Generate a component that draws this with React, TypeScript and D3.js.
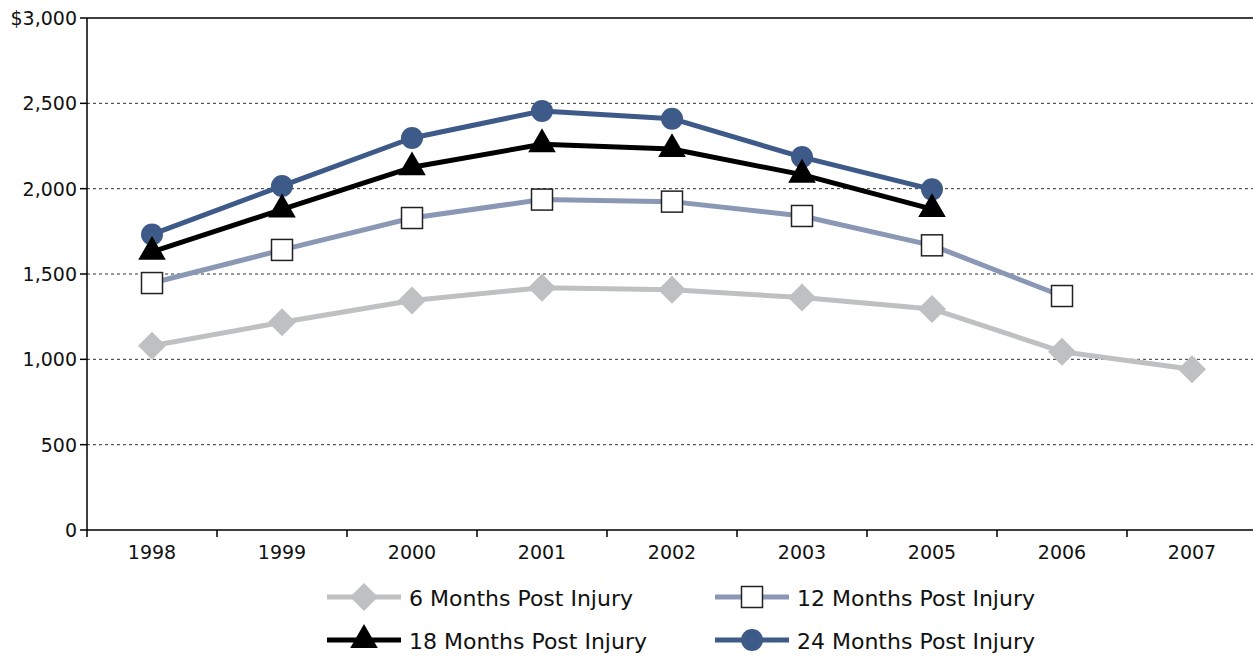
import React from "react";
import * as d3 from "d3";

const years = ["1998", "1999", "2000", "2001", "2002", "2003", "2005", "2006", "2007"];
const m6 = [1080, 1217, 1345, 1420, 1408, 1362, 1295, 1045, 942];
const m12 = [1447, 1641, 1828, 1936, 1924, 1840, 1668, 1371, null];
const m18 = [1630, 1878, 2125, 2260, 2232, 2082, 1880, null, null];
const m24 = [1732, 2016, 2297, 2455, 2410, 2185, 1996, null, null];
const yTicks = [0, 500, 1000, 1500, 2000, 2500, 3000];
const yTickLabels = ["0", "500", "1,000", "1,500", "2,000", "2,500", "$3,000"];

type Series = { name: string; values: (number | null)[]; color: string; shape: string };
const series: Series[] = [
  { name: "24 Months Post Injury", values: m24, color: "#3D5A88", shape: "circle" },
  { name: "18 Months Post Injury", values: m18, color: "#000000", shape: "triangle" },
  { name: "12 Months Post Injury", values: m12, color: "#8A98B5", shape: "square" },
  { name: "6 Months Post Injury", values: m6, color: "#BFC0C2", shape: "diamond" },
];
const legendOrder = [
  "6 Months Post Injury",
  "12 Months Post Injury",
  "18 Months Post Injury",
  "24 Months Post Injury",
];

const W = 1253;
const H = 656;
const left = 87;
const top = 18;
const bottom = 530;
const FONT = "'DejaVu Sans', sans-serif";

function Marker({ shape, cx, cy, color }: { shape: string; cx: number; cy: number; color: string }) {
  if (shape === "circle") return <circle cx={cx} cy={cy} r={11} fill={color} />;
  if (shape === "square")
    return <rect x={cx - 10.5} y={cy - 10.5} width={21} height={21} fill="#fff" stroke="#222" strokeWidth={1.5} />;
  if (shape === "triangle") {
    const p = d3.symbol(d3.symbolTriangle, 330)()!;
    return <path d={p} transform={`translate(${cx},${cy})`} fill={color} />;
  }
  const s = 14;
  return (
    <path
      d={`M${cx},${cy - s}L${cx + s},${cy}L${cx},${cy + s}L${cx - s},${cy}Z`}
      fill={color}
    />
  );
}

export default function App() {
  const x = d3.scaleBand<string>().domain(years).range([left, left + 130 * years.length]);
  const y = d3.scaleLinear().domain([0, 3000]).range([bottom, top]);
  const cx = (yr: string) => (x(yr) as number) + x.bandwidth() / 2;

  const line = d3
    .line<number | null>()
    .defined((d) => d !== null)
    .x((_, i) => cx(years[i]))
    .y((d) => y(d as number));

  const legendPos: Record<string, { lx: number; ly: number }> = {
    "6 Months Post Injury": { lx: 327, ly: 597 },
    "12 Months Post Injury": { lx: 715, ly: 597 },
    "18 Months Post Injury": { lx: 327, ly: 640 },
    "24 Months Post Injury": { lx: 715, ly: 640 },
  };

  return (
    <svg width={W} height={H} style={{ position: "absolute", left: 0, top: 0, background: "#fff" }}>
      {/* gridlines */}
      {yTicks.slice(1, -1).map((t) => (
        <line key={t} x1={left} x2={W} y1={y(t)} y2={y(t)} stroke="#333" strokeWidth={1} strokeDasharray="3,3" />
      ))}
      {/* top border */}
      <line x1={left} x2={W} y1={y(3000)} y2={y(3000)} stroke="#000" strokeWidth={1.5} />
      {/* y axis */}
      <line x1={left} x2={left} y1={top} y2={bottom} stroke="#000" strokeWidth={1.5} />
      {yTicks.map((t, i) => (
        <g key={t}>
          <line x1={left - 7} x2={left} y1={y(t)} y2={y(t)} stroke="#000" strokeWidth={1.5} />
          <text x={77} y={y(t)} dy="0.36em" textAnchor="end" fontFamily={FONT} fontSize={19} fill="#111">
            {yTickLabels[i]}
          </text>
        </g>
      ))}
      {/* x axis */}
      <line x1={left} x2={W} y1={bottom} y2={bottom} stroke="#000" strokeWidth={1.5} />
      {years.map((yr) => (
        <g key={yr}>
          <line x1={x(yr)} x2={x(yr)} y1={bottom} y2={bottom + 7} stroke="#000" strokeWidth={1.5} />
          <text x={cx(yr)} y={559} textAnchor="middle" fontFamily={FONT} fontSize={19} fill="#111">
            {yr}
          </text>
        </g>
      ))}
      {/* series */}
      {series.map((s) => (
        <g key={s.name}>
          <path d={line(s.values) || ""} fill="none" stroke={s.color} strokeWidth={5} strokeLinejoin="round" />
          {s.values.map((v, i) =>
            v === null ? null : <Marker key={i} shape={s.shape} cx={cx(years[i])} cy={y(v)} color={s.color} />
          )}
        </g>
      ))}
      {/* legend */}
      {legendOrder.map((n) => {
        const s = series.find((d) => d.name === n)!;
        const { lx, ly } = legendPos[n];
        return (
          <g key={n}>
            <line x1={lx} x2={lx + 74} y1={ly} y2={ly} stroke={s.color} strokeWidth={5} />
            <Marker shape={s.shape} cx={lx + 37} cy={ly} color={s.color} />
            <text x={lx + 82} y={ly + 9} fontFamily={FONT} fontSize={22} fill="#111">
              {n}
            </text>
          </g>
        );
      })}
    </svg>
  );
}
